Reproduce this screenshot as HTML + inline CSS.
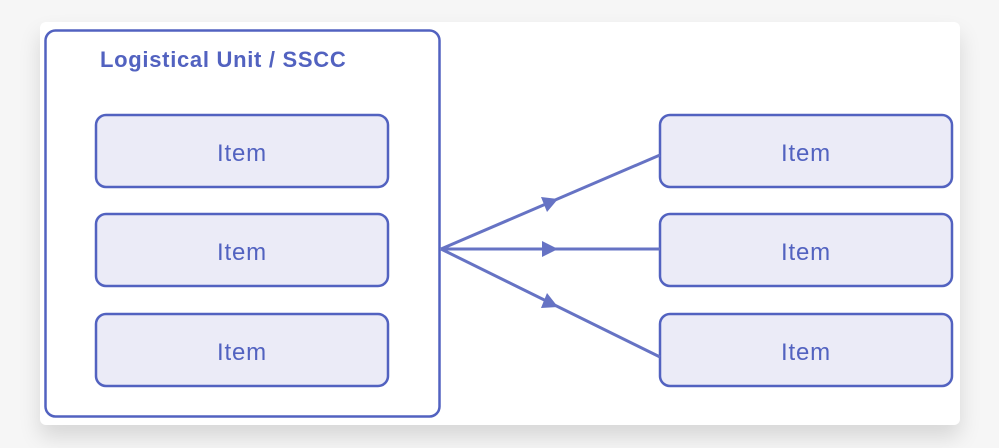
<!DOCTYPE html>
<html><head><style>
body{margin:0;width:999px;height:448px;background:#f6f6f6;overflow:hidden;font-family:"Liberation Sans",sans-serif}
.card{position:absolute;left:40px;top:22px;width:920px;height:403px;background:#fff;border-radius:6px;box-shadow:0 12px 22px rgba(0,0,0,0.13)}
</style></head><body>
<div class="card"></div>
<svg width="999" height="448" style="position:absolute;left:0;top:0">
<rect x="45.5" y="30.5" width="394" height="386" rx="10" fill="none" stroke="#5262c0" stroke-width="2.5"/>
<text x="100" y="67" font-size="22" font-weight="bold" fill="#5262c0" letter-spacing="0.7">Logistical Unit / SSCC</text>
<g fill="#ebebf7" stroke="#5262c0" stroke-width="2.5">
<rect x="96" y="115" width="292" height="72" rx="10"/>
<rect x="96" y="214" width="292" height="72" rx="10"/>
<rect x="96" y="314" width="292" height="72" rx="10"/>
<rect x="660" y="115" width="292" height="72" rx="10"/>
<rect x="660" y="214" width="292" height="72" rx="10"/>
<rect x="660" y="314" width="292" height="72" rx="10"/>
</g>
<g font-size="24" fill="#5262c0" text-anchor="middle" letter-spacing="0.8">
<text x="242" y="161">Item</text><text x="242" y="260">Item</text><text x="242" y="360">Item</text>
<text x="806" y="161">Item</text><text x="806" y="260">Item</text><text x="806" y="360">Item</text>
</g>
<g stroke="#6673c4" stroke-width="3" fill="none">
<line x1="441" y1="249" x2="660" y2="155"/>
<line x1="441" y1="249" x2="660" y2="249"/>
<line x1="441" y1="249" x2="660" y2="357"/>
</g>
<g fill="#6673c4">
<polygon points="558,199 541,197 547,212"/>
<polygon points="558,249 542,241 542,257"/>
<polygon points="558,307 547,293 541,308"/>
</g>
</svg>
</body></html>
